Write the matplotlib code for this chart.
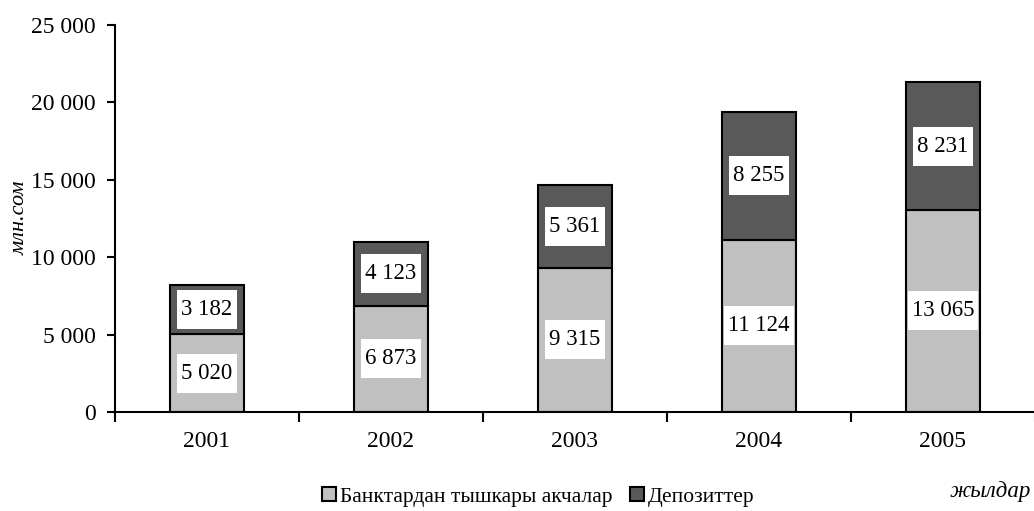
import numpy as np
import matplotlib.pyplot as plt
from matplotlib.path import Path
from matplotlib.ticker import FuncFormatter

plt.rcParams['font.family'] = ['Liberation Serif', 'DejaVu Serif']

years = ['2001', '2002', '2003', '2004', '2005']
cash = [5020, 6873, 9315, 11124, 13065]
deposits = [3182, 4123, 5361, 8255, 8231]
series_names = ['Банктардан тышкары акчалар', 'Депозиттер']


def label_box(x0, y0, width, height, mutation_size):
    # white label box: narrow side padding, taller top/bottom padding
    px, py = 4, 9
    x1, y1 = x0 - px, y0 - py
    x2, y2 = x0 + width + px, y0 + height + py
    return Path([(x1, y1), (x2, y1), (x2, y2), (x1, y2), (x1, y1)], closed=True)


fig = plt.figure(figsize=(10.34, 5.11), dpi=100)
ax = fig.add_axes([115 / 1034, 1 - 412 / 511, 920 / 1034, 387 / 511])

x = np.arange(len(years))
w = 0.4
b1 = ax.bar(x, cash, w, color='#c0c0c0', edgecolor='black', linewidth=1.5)
b2 = ax.bar(x, deposits, w, bottom=cash, color='#595959', edgecolor='black', linewidth=1.5)

box = dict(boxstyle=label_box, facecolor='white', edgecolor='none')
fmt = lambda v: f'{v:,}'.replace(',', ' ')
for i in range(len(years)):
    ax.text(x[i], cash[i] / 2, fmt(cash[i]), ha='center', va='center', fontsize=16.5, bbox=box)
    ax.text(x[i], cash[i] + deposits[i] / 2, fmt(deposits[i]), ha='center', va='center',
            fontsize=16.5, bbox=box)

ax.set_xlim(-0.5, len(years) - 0.5)
ax.set_ylim(0, 25000)
ax.set_yticks(np.arange(0, 25001, 5000))
ax.yaxis.set_major_formatter(FuncFormatter(lambda v, p: fmt(int(v))))
ax.set_xticks(x)
ax.set_xticklabels(years)
ax.set_xticks(np.arange(-0.5, len(years), 1), minor=True)
ax.tick_params(axis='x', which='major', length=0, pad=14, labelsize=17)
ax.tick_params(axis='x', which='minor', length=7, width=1.5, direction='out')
ax.tick_params(axis='y', length=6, width=1.5, direction='out', labelsize=17, pad=8)

for s in ['top', 'right']:
    ax.spines[s].set_visible(False)
for s in ['left', 'bottom']:
    ax.spines[s].set_linewidth(1.5)

fig.text(20 / 1034, 1 - 218 / 511, 'млн.сом', rotation=90, style='italic', fontsize=16,
         ha='center', va='center')
fig.text(990 / 1034, 1 - 492 / 511, 'жылдар', style='italic', fontsize=16.5,
         ha='center', va='center')

fig.legend([b1, b2], series_names, loc='center', bbox_to_anchor=(538 / 1034, 1 - 497 / 511),
           ncol=2, frameon=False, fontsize=15.5, handlelength=0.65, handleheight=0.65,
           handletextpad=0.2, columnspacing=0.8)

fig.savefig('out.png', dpi=100)
